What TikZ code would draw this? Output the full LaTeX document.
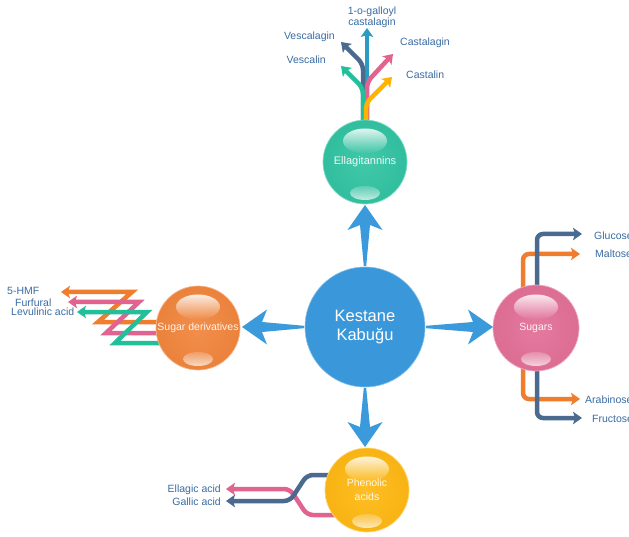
\documentclass[tikz,border=0pt]{standalone}
\usepackage{fontspec}
\setmainfont{Liberation Sans}
\usetikzlibrary{arrows.meta,fadings,backgrounds}

\definecolor{spikeblue}{HTML}{3A9ADB}
\definecolor{coreblue}{HTML}{3A98DA}
\definecolor{tealc}{HTML}{22BF9B}
\definecolor{orangec}{HTML}{F07C2E}
\definecolor{pinkc}{HTML}{E0648F}
\definecolor{yellowc}{HTML}{FFB300}
\definecolor{slatec}{HTML}{4A6B8F}
\definecolor{cyanc}{HTML}{2A9CC2}
\definecolor{labelc}{HTML}{3A6CA3}
\colorlet{ballin}{white}
\colorlet{ballout}{black}

% soft radial body for the glossy spheres
\pgfdeclareradialshading[ballin,ballout]{glossy}{\pgfpoint{0bp}{0bp}}%
  {color(0bp)=(ballin); color(26bp)=(ballin!50!ballout); color(50bp)=(ballout)}

\tikzfading[name=hltopfade, top color=transparent!15, bottom color=transparent!100]
\tikzfading[name=hlbotfade, top color=transparent!80, bottom color=transparent!30]

\tikzset{
  core/.style={circle, inner sep=0pt, minimum size=120pt, fill=coreblue,
    draw=white!40!coreblue, line width=0.6pt, text=white, align=center,
    font=\fontsize{16.5}{19.5}\selectfont},
  ball/.style={circle, inner sep=0pt, draw=white!45!#1, line width=0.7pt,
    text=white!92!#1, align=center, font=\fontsize{10.5}{14}\selectfont,
    /utils/exec={\colorlet{ballin}{#1!86!white}\colorlet{ballout}{#1!94!black}},
    shading=glossy},
  hltop/.style={fill=white, path fading=hltopfade},
  hlbot/.style={fill=white, path fading=hlbotfade},
  flow/.style={line width=4.5pt, rounded corners=6pt,
    -{Stealth[length=9pt,width=12.5pt,inset=2pt]}},
  zflow/.style={line width=4.5pt,
    -{Stealth[length=9pt,width=12.5pt,inset=2pt]}},
  lbl/.style={text=labelc, inner sep=0pt, font=\fontsize{10.5}{11}\selectfont},
  pics/spike/.style={code={
    \fill[spikeblue] (61,-1.2) -- (#1-20,-5) -- (#1-25,-17.5) -- (#1,0)
      -- (#1-25,17.5) -- (#1-20,5) -- (61,1.2) -- cycle;
  }},
}

\begin{document}
\begin{tikzpicture}[x=1pt,y=-1pt]
\useasboundingbox (0,0) rectangle (629,537);
\clip (0,0) rectangle (629,537);

% spheres
\node[core] (kb) at (365,327) {Kestane\\Kabuğu};
\node[ball=tealc, minimum size=84pt, font=\fontsize{11}{14}\selectfont] (el) at (365,162) {\raisebox{-2pt}{Ellagitannins}};
\node[ball=orangec, minimum size=84pt] (sd) at (198,328) {\raisebox{-1.5pt}{Sugar derivatives}};
\node[ball=pinkc, minimum size=86pt] (sg) at (536,328) {\raisebox{-2pt}{Sugars}};
\node[ball=yellowc, minimum size=84pt] (pa) at (367,490) {Phenolic\\acids};

% glossy highlights
\foreach \b in {el,sd,sg,pa}{
  \fill[hltop] ([yshift=21pt]\b.center) ellipse [x radius=22pt, y radius=12.5pt];
  \fill[hlbot] ([yshift=-31pt]\b.center) ellipse [x radius=15pt, y radius=7pt];
}

% tapered arrows from the core
\pic[rotate=0]   at (kb.center) {spike=128};
\pic[rotate=180] at (kb.center) {spike=123};
\pic[rotate=90]  at (kb.center) {spike=122};
\pic[rotate=-90] at (kb.center) {spike=120};

\begin{scope}[on background layer]
  \fill[white] (0,0) rectangle (629,537);

  % ellagitannin tree
  \draw[flow, cyanc]   ([xshift=2pt]el.center) -- (367,28);
  \draw[flow, slatec]  ([xshift=-2pt]el.center) -- (363,64) -- (341,42);
  \draw[flow, pinkc]   ([xshift=2pt]el.center) -- (367,82) -- (393,54);
  \draw[flow, tealc]   ([xshift=-2pt]el.center) -- (363,88) -- (341,66);
  \draw[flow, yellowc] ([xshift=1pt]el.center) -- (366,103) -- (392,77);

  % sugar derivative zig-zags
  \draw[zflow, orangec] ([yshift=6pt]sd.center) -- (98,322) -- (132,292) -- (61,292);
  \draw[zflow, pinkc]   ([yshift=-5pt]sd.center) -- (106,333) -- (139,302) -- (68,302);
  \draw[zflow, tealc]   ([yshift=-15pt]sd.center) -- (115,343) -- (147,312) -- (77,312);

  % sugars
  \draw[flow, orangec] ([xshift=-13pt]sg.center) |- (580,254);
  \draw[flow, orangec] ([xshift=-13pt]sg.center) |- (580,399);
  \draw[flow, slatec]  ([xshift=1pt]sg.center) |- (582,234);
  \draw[flow, slatec]  ([xshift=1pt]sg.center) |- (582,418);

  % phenolic acids
  \draw[flow, pinkc]  ([yshift=-25pt]pa.center) -- (307,515) -- (290,489) -- (226,489);
  \draw[flow, slatec] ([yshift=15pt]pa.center) -- (307,475) -- (290,501) -- (226,501);
\end{scope}

% product labels
\node[lbl, align=center] (tgal) at (372,17) {1-o-galloyl\\castalagin};
\node[lbl, anchor=base east] (tvga) at (335,39.5) {Vescalagin};
\node[lbl, anchor=base east] (tvcl) at (326,64) {Vescalin};
\node[lbl, anchor=base west] (tcga) at (400,46) {Castalagin};
\node[lbl, anchor=base west] (tccl) at (406,79) {Castalin};

\node[lbl, anchor=base west] (thmf) at (7,294.5) {5-HMF};
\node[lbl, anchor=base west] (tfur) at (15,306) {Furfural};
\node[lbl, anchor=base west] (tlev) at (11,316) {Levulinic acid};

\node[lbl, anchor=base west] (tglu) at (594,239.5) {Glucose};
\node[lbl, anchor=base west] (tmal) at (595,258) {Maltose};
\node[lbl, anchor=base west] (tara) at (585,403.5) {Arabinose};
\node[lbl, anchor=base west] (tfru) at (592,422.5) {Fructose};

\node[lbl, anchor=base east] (tell) at (221,492) {Ellagic acid};
\node[lbl, anchor=base east] (tgla) at (221,505) {Gallic acid};
\end{tikzpicture}
\end{document}
